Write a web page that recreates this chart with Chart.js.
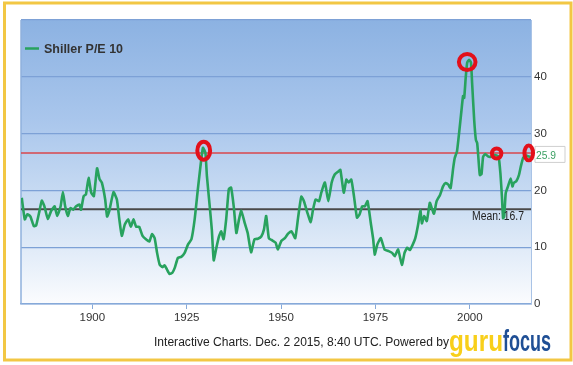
<!DOCTYPE html>
<html>
<head>
<meta charset="utf-8">
<script src="https://cdn.jsdelivr.net/npm/chart.js@4.4.0/dist/chart.umd.min.js"></script>
<style>
  html, body { margin: 0; padding: 0; background: #fff; }
  #wrap { width: 573px; height: 365px; position: relative; }
</style>
</head>
<body>
<div id="wrap"><canvas id="peChart" width="573" height="365"></canvas></div>
<script>
// Shiller P/E 10
const years = [
  1881.3, 1882.1, 1882.8, 1883.6, 1884.5, 1885.1, 1886.0, 1886.6, 1887.3, 1888.2,
  1889.1, 1890.0, 1890.7, 1891.6, 1892.2, 1892.8, 1893.5, 1894.2, 1894.9, 1895.7,
  1896.6, 1897.0, 1897.7, 1898.3, 1899.0, 1899.7, 1900.4, 1901.25, 1901.9, 1902.5,
  1903.4, 1903.9, 1904.5, 1905.6, 1906.5, 1907.15, 1907.8, 1908.6, 1909.5, 1910.2,
  1910.9, 1911.6, 1912.4, 1913.3, 1914.2, 1915.1, 1915.8, 1916.5, 1917.15, 1917.85,
  1918.55, 1919.15, 1919.75, 1920.45, 1921.2, 1921.85, 1922.65, 1923.55, 1924.45, 1925.35,
  1926.25, 1927.1, 1927.95, 1928.65, 1929.3, 1929.95, 1930.35, 1931.05, 1931.65, 1932.15,
  1932.85, 1933.55, 1934.15, 1934.75, 1935.45, 1936.15, 1936.75, 1937.45, 1938.15, 1938.85,
  1939.45, 1940.35, 1941.15, 1942.05, 1942.95, 1943.85, 1944.75, 1945.45, 1946.05, 1946.75,
  1947.65, 1948.55, 1949.15, 1950.05, 1951.0, 1951.85, 1952.75, 1953.75, 1954.5, 1955.35,
  1956.05, 1956.95, 1957.85, 1958.45, 1959.15, 1960.05, 1960.65, 1961.6, 1962.5, 1963.4,
  1964.2, 1965.1, 1965.7, 1966.6, 1967.3, 1967.9, 1968.6, 1969.3, 1970.1, 1970.8,
  1971.5, 1972.2, 1972.9, 1973.75, 1974.4, 1974.8, 1975.5, 1976.4, 1977.4, 1978.5,
  1979.4, 1980.1, 1981.0, 1982.0, 1982.7, 1983.4, 1984.1, 1984.9, 1985.55, 1986.3,
  1986.9, 1987.3, 1987.9, 1988.6, 1989.4, 1990.0, 1990.5, 1991.2, 1992.1, 1992.9,
  1993.6, 1994.3, 1994.9, 1995.6, 1996.0, 1996.6, 1997.2, 1997.8, 1998.2, 1998.5,
  1998.9, 1999.3, 1999.8, 2000.3, 2000.6, 2001.15, 2001.6, 2001.95, 2002.3, 2002.65,
  2003.1, 2003.5, 2004.1, 2004.8, 2005.5, 2006.2, 2006.9, 2007.6, 2008.1, 2008.5,
  2008.8, 2009.1, 2009.5, 2010.1, 2010.8, 2011.3, 2011.6, 2012.3, 2013.0, 2013.5,
  2014.1, 2014.8, 2015.4, 2016.1
];
const peValues = [
  18.7, 14.9, 15.8, 15.4, 13.7, 13.8, 16.4, 18.2, 17.2, 15.0,
  16.4, 17.2, 15.5, 17.2, 19.7, 17.2, 15.5, 16.9, 16.6, 17.2,
  17.5, 16.6, 19.0, 19.3, 22.2, 19.6, 19.0, 23.9, 22.0, 21.4,
  18.4, 15.4, 16.4, 19.7, 18.4, 14.9, 12.0, 14.0, 14.9, 13.6,
  14.9, 13.6, 13.6, 12.0, 11.4, 11.0, 12.3, 11.6, 9.0, 6.9,
  6.5, 6.8, 6.1, 5.3, 5.5, 6.4, 8.1, 8.3, 9.0, 10.5,
  11.4, 14.9, 20.2, 24.3, 27.5, 26.6, 22.5, 17.5, 13.1, 7.7,
  9.9, 11.9, 12.8, 11.4, 14.9, 20.2, 20.5, 17.2, 12.5, 14.9,
  16.4, 14.3, 12.5, 9.1, 11.4, 11.5, 11.9, 13.1, 15.5, 11.6,
  11.2, 10.8, 9.6, 11.1, 11.6, 12.4, 12.8, 11.6, 15.2, 18.9,
  18.1, 16.1, 14.4, 16.6, 18.4, 18.1, 19.6, 21.4, 18.1, 21.4,
  22.8, 23.3, 23.6, 19.6, 21.9, 21.4, 21.9, 19.0, 15.2, 15.8,
  17.2, 17.2, 18.1, 14.3, 11.4, 8.7, 10.5, 11.6, 9.6, 9.3,
  9.0, 8.4, 9.6, 6.9, 9.0, 9.9, 9.5, 10.5, 11.6, 14.0,
  16.5, 14.2, 15.5, 14.6, 17.8, 16.7, 15.9, 18.1, 19.2, 20.7,
  21.3, 21.0, 20.4, 24.0, 25.7, 26.9, 30.4, 34.2, 36.6, 36.3,
  39.8, 42.5, 43.0, 42.5, 38.9, 32.4, 28.9, 28.3, 25.4, 22.7,
  22.9, 25.9, 26.4, 26.0, 25.9, 26.2, 26.2, 26.0, 23.0, 18.9,
  15.1, 15.4, 19.5, 20.7, 22.1, 20.7, 21.3, 21.6, 22.7, 24.2,
  25.7, 26.2, 26.0, 25.9
];
const xTicks = [1900, 1925, 1950, 1975, 2000];
const yTicks = [0, 10, 20, 30, 40, 50];
const meanValue = 16.7;
const redLevel = 26.6;
const lastValue = 25.9;
const circleYears = [1929.5, 1999.3, 2007.1, 2015.6];
const circleValues = [27.0, 42.6, 26.5, 26.6];

// ring sizes (px) for the red markers
const ringRadii = [[6.4, 9.0], [8.3, 8.0], [4.7, 5.0], [4.3, 7.4]];

const green = '#28a25e';
const font = '"Liberation Sans", Arial, sans-serif';

function fitText(ctx, text, x, y, w, f, color) {
  ctx.save();
  ctx.font = f;
  const s = w / ctx.measureText(text).width;
  ctx.translate(x, y);
  ctx.scale(s, 1);
  ctx.fillStyle = color;
  ctx.textBaseline = 'alphabetic';
  ctx.textAlign = 'left';
  ctx.fillText(text, 0, 0);
  ctx.restore();
}

const decor = {
  id: 'decor',
  beforeDraw(chart) {
    const { ctx, chartArea: a } = chart;
    ctx.save();
    ctx.fillStyle = '#fff';
    ctx.fillRect(0, 0, chart.width, chart.height);
    const g = ctx.createLinearGradient(0, a.top, 0, a.bottom);
    g.addColorStop(0, '#8cb2e2');
    g.addColorStop(0.35, '#a9c6ec');
    g.addColorStop(0.68, '#cfe0f4');
    g.addColorStop(1, '#fbfcfe');
    ctx.fillStyle = g;
    ctx.fillRect(a.left, a.top, a.right - a.left, a.bottom - a.top);
    ctx.restore();
  },
  beforeDatasetsDraw(chart) {
    const { ctx, chartArea: a, scales: { y } } = chart;
    ctx.save();
    // left border
    ctx.strokeStyle = '#8fb0dc';
    ctx.lineWidth = 1.5;
    ctx.beginPath();
    ctx.moveTo(a.left, a.top);
    ctx.lineTo(a.left, a.bottom);
    ctx.stroke();
    // red level line
    const ry = y.getPixelForValue(redLevel);
    ctx.strokeStyle = '#d9474c';
    ctx.lineWidth = 1.5;
    ctx.beginPath();
    ctx.moveTo(a.left, ry);
    ctx.lineTo(a.right, ry);
    ctx.stroke();
    // mean line
    const my = y.getPixelForValue(meanValue);
    ctx.strokeStyle = '#4a4a4a';
    ctx.lineWidth = 2;
    ctx.beginPath();
    ctx.moveTo(a.left, my);
    ctx.lineTo(a.right, my);
    ctx.stroke();
    ctx.restore();
  },
  afterDraw(chart) {
    const { ctx, scales: { x, y } } = chart;
    ctx.save();

    // legend
    ctx.strokeStyle = green;
    ctx.lineWidth = 2.5;
    ctx.beginPath();
    ctx.moveTo(25, 48.5);
    ctx.lineTo(39, 48.5);
    ctx.stroke();
    fitText(ctx, 'Shiller P/E 10', 44, 53, 79, 'bold 12.5px ' + font, '#333');

    // mean label
    const my = y.getPixelForValue(meanValue);
    fitText(ctx, 'Mean: ' + meanValue, 472, my + 11, 52, '12px ' + font, '#222');

    // last value box
    const ly = y.getPixelForValue(redLevel) + 1.5;
    ctx.beginPath();
    ctx.moveTo(531, ly);
    ctx.lineTo(535, ly - 4);
    ctx.lineTo(535, ly - 8);
    ctx.lineTo(565, ly - 8);
    ctx.lineTo(565, ly + 8);
    ctx.lineTo(535, ly + 8);
    ctx.lineTo(535, ly + 4);
    ctx.closePath();
    ctx.fillStyle = '#fff';
    ctx.fill();
    ctx.strokeStyle = '#cfcfcf';
    ctx.lineWidth = 1;
    ctx.stroke();
    fitText(ctx, String(lastValue), 536, ly + 4.5, 20, '11.5px ' + font, '#3a9f62');

    // red rings, on top of everything
    ctx.strokeStyle = '#e3101a';
    ctx.lineWidth = 4;
    circleYears.forEach((yr, i) => {
      const px = x.getPixelForValue(yr);
      const py = y.getPixelForValue(circleValues[i]);
      const [rx, ryy] = ringRadii[i];
      ctx.beginPath();
      ctx.ellipse(px, py, rx, ryy, 0, 0, Math.PI * 2);
      ctx.stroke();
    });

    // footer
    fitText(ctx, 'Interactive Charts. Dec. 2 2015, 8:40 UTC. Powered by', 154, 346, 295, '12px ' + font, '#222');
    const gg = ctx.createLinearGradient(0, 330, 0, 358);
    gg.addColorStop(0, '#f8cf1a');
    gg.addColorStop(1, '#eaa400');
    fitText(ctx, 'guru', 449, 351, 54, 'bold 30px ' + font, gg);
    fitText(ctx, 'focus', 503, 351, 48, 'bold 30px ' + font, '#1f4f95');

    // yellow frame
    ctx.strokeStyle = '#f2c744';
    ctx.lineWidth = 3;
    ctx.strokeRect(4.5, 3, 566.5, 357);
    ctx.restore();
  }
};

const chart = new Chart(document.getElementById('peChart').getContext('2d'), {
  type: 'line',
  data: {
    datasets: [{
      label: 'Shiller P/E 10',
      data: years.map((yr, i) => ({ x: yr, y: peValues[i] })),
      borderColor: green,
      borderWidth: 2.6,
      pointRadius: 0,
      tension: 0.15,
      fill: false
    }]
  },
  options: {
    responsive: false,
    animation: false,
    layout: { padding: { left: 21, top: 20, right: 0, bottom: 0 } },
    plugins: { legend: { display: false }, tooltip: { enabled: false } },
    scales: {
      x: {
        type: 'linear',
        min: 1881.1,
        max: 2016.2,
        afterBuildTicks: axis => { axis.ticks = xTicks.map(v => ({ value: v })); },
        afterFit: axis => { axis.height = 61; },
        grid: { drawOnChartArea: false, color: '#86a9d9', tickLength: 5 },
        border: { color: '#86a9d9', width: 1.5 },
        ticks: { color: '#333', padding: 2, font: { family: font, size: 11.5 }, callback: v => String(v) }
      },
      y: {
        position: 'right',
        min: 0,
        max: 50,
        afterBuildTicks: axis => { axis.ticks = yTicks.map(v => ({ value: v })); },
        afterFit: axis => { axis.width = 42; },
        grid: { color: '#7da1d6', lineWidth: 1.3, drawTicks: false },
        border: { color: '#a9c3e6', width: 1 },
        ticks: { color: '#333', padding: 3, font: { family: font, size: 11.5 }, callback: v => v === 50 ? '' : String(v) }
      }
    }
  },
  plugins: [decor]
});
</script>
</body>
</html>
